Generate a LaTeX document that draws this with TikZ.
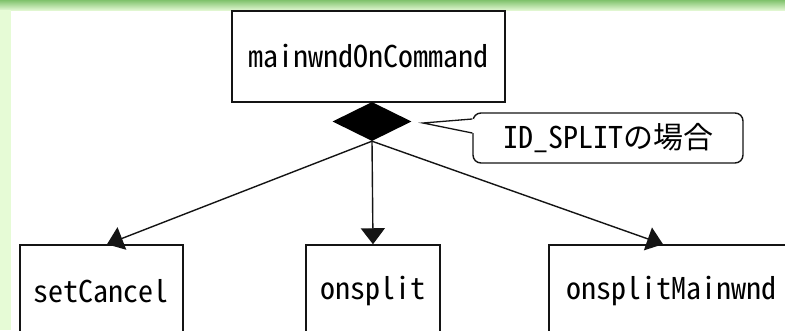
\documentclass[tikz,border=0pt]{standalone}
\usepackage{fontspec}
\usetikzlibrary{shapes.geometric,arrows.meta}
% Gothic face with half-width Latin letters
\newfontfamily\gothic[RawFeature=+hwid]{Noto Sans CJK JP}
\definecolor{bandtop}{RGB}{128,194,108}
\definecolor{bandbot}{RGB}{224,246,208}
\definecolor{strip}{RGB}{230,251,214}
\definecolor{ink}{RGB}{20,20,20}

\begin{document}
\begin{tikzpicture}[x=1pt,y=-1pt,
  every node/.style={font=\gothic\fontsize{30}{36}\selectfont, text=black},
  func/.style={draw=ink, line width=1.5pt, fill=white, inner sep=0pt},
  link/.style={draw=ink, line width=1.4pt, -{Triangle[length=16pt,width=24pt]}},
  ]
\useasboundingbox (0,0) rectangle (785,330);
\clip (0,0) rectangle (785,330);
% page frame: green header band and left strip
\fill[white] (0,0) rectangle (785,330);
\shade[top color=bandtop, bottom color=bandbot] (0,0) rectangle (785,10);
\fill[strip] (0,10) rectangle (11,330);

% caller and branch
\node[func, minimum width=273pt, minimum height=91pt] (main) at (368.5,56.5) {mainwndOnCommand};
\node[diamond, fill=black, draw=none, minimum width=79pt, minimum height=39pt, inner sep=0pt] (dec) at (372,121.5) {};

% condition note with pointer
\node[draw=ink, line width=1.4pt, rounded corners=8pt, fill=white,
      minimum width=270pt, minimum height=50pt, inner sep=0pt] (note) at (608,138) {ID\_SPLITの場合};
\coordinate (tip) at (423,123);
\coordinate (pu) at ([yshift=19pt]note.west);
\coordinate (pl) at ([yshift=5pt]note.west);
\fill[white] (tip) -- ([xshift=1.5pt]pu) -- ([xshift=1.5pt]pl) -- cycle;
\draw[ink, line width=1.3pt] (pu) -- (tip) -- (pl);

% callees
\node[func, minimum width=163pt, minimum height=92pt] (cancel) at (101.5,291) {setCancel};
\node[func, minimum width=134pt, minimum height=92pt] (split) at (373,291) {onsplit};
\node[func, minimum width=244pt, minimum height=92pt] (splitmain) at (671,291) {onsplitMainwnd};

\draw[link] (dec.south) -- ([xshift=5.5pt]cancel.north);
\draw[link] (dec.south) -- (split.north);
\draw[link] (dec.south) -- ([xshift=-8pt]splitmain.north);
\end{tikzpicture}
\end{document}
